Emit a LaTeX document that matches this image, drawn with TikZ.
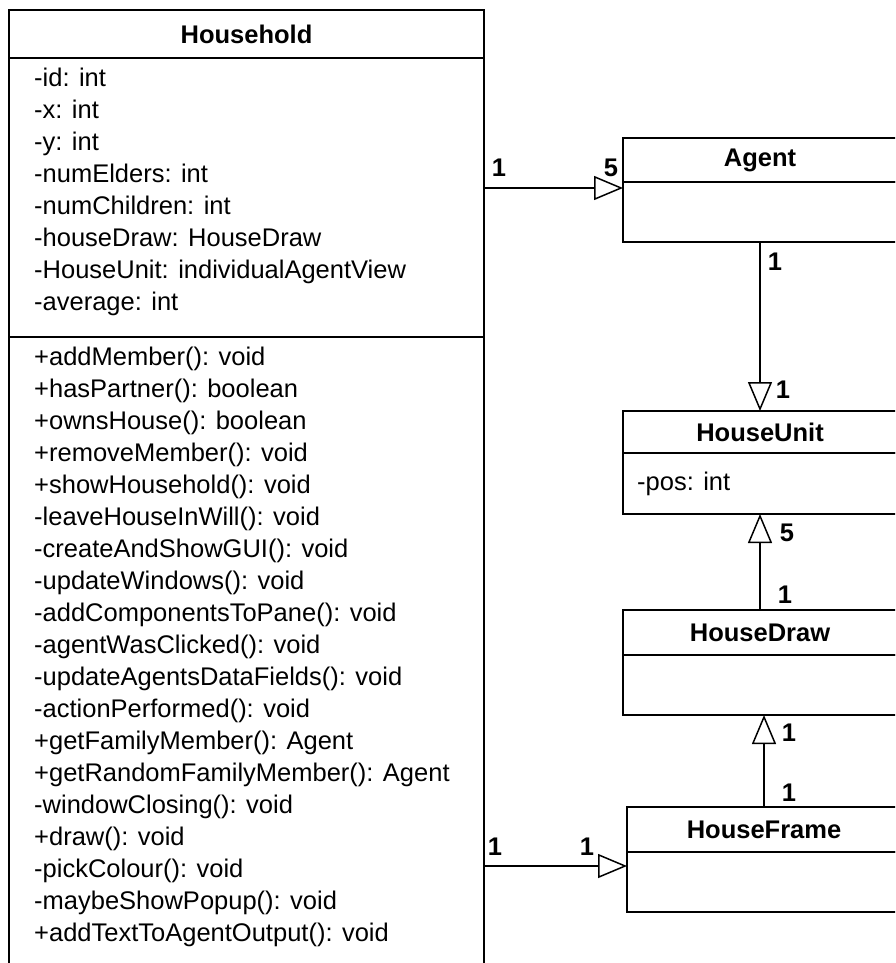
\documentclass[tikz,border=0pt]{standalone}
\usepackage{fontspec}
\setmainfont{Liberation Sans}
\usetikzlibrary{arrows.meta,positioning,calc}

\begin{document}
\begin{tikzpicture}[
    x=1pt, y=-1pt,
    classhead/.style={rectangle, draw, line width=1.5pt, outer sep=0pt, inner sep=0pt, minimum width=274pt, minimum height=45pt, font=\fontsize{25.5}{32}\selectfont\bfseries},
    classbody/.style={rectangle, draw, line width=1.5pt, outer sep=0pt, inner sep=0pt, minimum width=274pt, minimum height=60pt},
    members/.style={anchor=north west, align=left, inner sep=0pt, font=\fontsize{25.5}{32}\selectfont},
    mult/.style={inner sep=0pt, font=\fontsize{25.5}{32}\selectfont\bfseries},
    assoc/.style={-{Triangle[open, length=29pt, width=24pt]}, line width=1.5pt}
]
    \clip (0,0) rectangle (895,963);

    % Household class
    \node[classhead, anchor=north west, minimum width=475pt, minimum height=48pt] (household) at (9,10) {Household};
    \node[classbody, below=0pt of household, minimum width=475pt, minimum height=279pt] (hhattr) {};
    \node[classbody, below=0pt of hhattr, minimum width=475pt, minimum height=700pt] (hhops) {};
    \node[members] (hhattrlist) at ([xshift=25pt, yshift=-10pt]hhattr.north west) {-id: int\\-x: int\\-y: int\\-numElders: int\\-numChildren: int\\-houseDraw: HouseDraw\\-HouseUnit: individualAgentView\\-average: int};
    \node[members] (hhopslist) at ([xshift=25pt, yshift=-10pt]hhops.north west) {+addMember(): void\\+hasPartner(): boolean\\+ownsHouse(): boolean\\+removeMember(): void\\+showHousehold(): void\\-leaveHouseInWill(): void\\-createAndShowGUI(): void\\-updateWindows(): void\\-addComponentsToPane(): void\\-agentWasClicked(): void\\-updateAgentsDataFields(): void\\-actionPerformed(): void\\+getFamilyMember(): Agent\\+getRandomFamilyMember(): Agent\\-windowClosing(): void\\+draw(): void\\-pickColour(): void\\-maybeShowPopup(): void\\+addTextToAgentOutput(): void};

    % Agent class
    \node[classhead, anchor=north west, minimum height=44pt] (agent) at (623,138) {Agent};
    \node[classbody, below=0pt of agent] (agentbody) {};

    % HouseUnit class
    \node[classhead, anchor=north west, minimum height=42pt] (houseunit) at (623,411) {HouseUnit};
    \node[classbody, below=0pt of houseunit, minimum height=61pt] (unitbody) {};
    \node[members, anchor=west] (unitattr) at ([xshift=14pt]unitbody.west) {-pos: int};

    % HouseDraw class
    \node[classhead, anchor=north west] (housedraw) at (623,610) {HouseDraw};
    \node[classbody, below=0pt of housedraw] (drawbody) {};

    % HouseFrame class
    \node[classhead, anchor=north west] (houseframe) at (627,807) {HouseFrame};
    \node[classbody, below=0pt of houseframe] (framebody) {};

    % link ends
    \coordinate (agentend) at ([yshift=-6pt]agentbody.north west);
    \coordinate (agentstart) at (hhattr.east |- agentend);
    \coordinate (frameend) at ([yshift=-14pt]framebody.north west);
    \coordinate (framestart) at (hhops.east |- frameend);
    \coordinate (drawend) at (houseframe.north |- drawbody.south);

    % Links
    \draw[assoc] (agentstart) -- (agentend);
    \draw[assoc] (framestart) -- (frameend);
    \draw[assoc] (agentbody.south) -- (houseunit.north);
    \draw[assoc] (housedraw.north) -- (unitbody.south);
    \draw[assoc] (houseframe.north) -- (drawend);

    % Multiplicities
    \node[mult] (multa) at ($(agentstart)+(15,-20)$) {1};
    \node[mult] (multb) at ($(agentend)+(-12,-20)$) {5};
    \node[mult] (multc) at ($(agentbody.south)+(15,20)$) {1};
    \node[mult] (multd) at ($(houseunit.north)+(23,-21)$) {1};
    \node[mult] (multe) at ($(unitbody.south)+(27,19)$) {5};
    \node[mult] (multf) at ($(housedraw.north)+(25,-15)$) {1};
    \node[mult] (multg) at ($(drawend)+(25,18)$) {1};
    \node[mult] (multh) at ($(houseframe.north)+(25,-14)$) {1};
    \node[mult] (multi) at ($(framestart)+(11,-19)$) {1};
    \node[mult] (multj) at ($(frameend)+(-40,-19)$) {1};
\end{tikzpicture}
\end{document}
